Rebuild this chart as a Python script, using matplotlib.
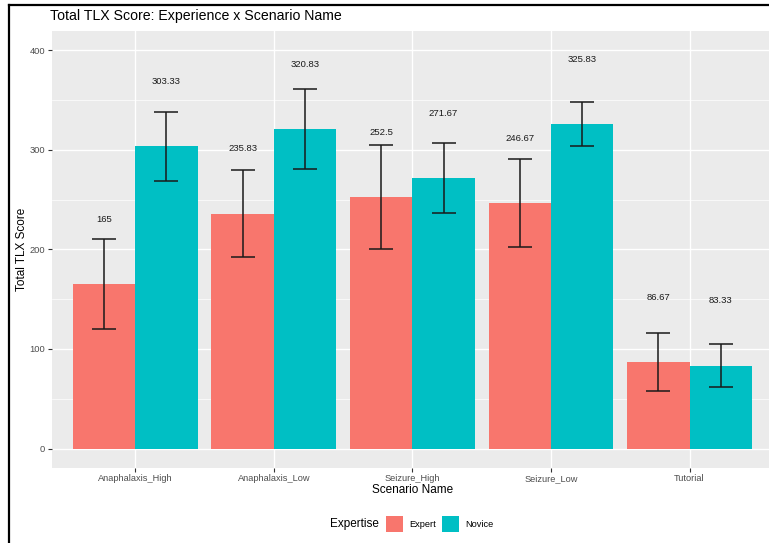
import matplotlib
matplotlib.use("Agg")
import matplotlib.pyplot as plt
from matplotlib.patches import Patch
from matplotlib.lines import Line2D
import numpy as np

plt.rcParams['font.family'] = ['Liberation Sans', 'DejaVu Sans']

scenarios = ["Anaphalaxis_High", "Anaphalaxis_Low", "Seizure_High", "Seizure_Low", "Tutorial"]
groups = ["Expert", "Novice"]
expert_mean = [165, 235.83, 252.5, 246.67, 86.67]
novice_mean = [303.33, 320.83, 271.67, 325.83, 83.33]
expert_err = [45, 44, 52, 44, 29]
novice_err = [34.5, 40, 35.3, 21.7, 22]
colors = ["#F8766D", "#00BFC4"]

W, H = 769, 543
fig = plt.figure(figsize=(W / 100, H / 100), dpi=100)
fig.patch.set_facecolor("white")

# panel runs slightly past the right edge of the canvas
ax_w, ax_h = 720.7, 437.3
ax = fig.add_axes([52 / W, 1 - 468 / H, ax_w / W, ax_h / H])
ax.set_facecolor("#EBEBEB")

x = np.arange(1, len(scenarios) + 1)
bw = 0.45
for i, (means, errs) in enumerate([(expert_mean, expert_err), (novice_mean, novice_err)]):
    xs = x + (i - 0.5) * bw
    ax.bar(xs, means, width=bw, color=colors[i], zorder=3)
    ax.errorbar(xs, means, yerr=errs, fmt="none", ecolor="#1a1a1a",
                elinewidth=1.1, capsize=8.5, capthick=1.1, zorder=4)
    for xi, m in zip(xs, means):
        ax.text(xi, m + 65, f"{m:g}", ha="center", va="center",
                fontsize=6.8, color="#1a1a1a", zorder=5)

ax.set_xlim(0.4, len(scenarios) + 0.6)
ax.set_ylim(-19.5, 419.5)
ax.set_yticks([0, 100, 200, 300, 400])
ax.set_yticks([50, 150, 250, 350], minor=True)
ax.set_xticks(x)
ax.set_xticklabels(scenarios)

ax.grid(which="major", axis="both", color="white", linewidth=1.0, zorder=0)
ax.grid(which="minor", axis="y", color="white", linewidth=0.5, zorder=0)
ax.set_axisbelow(True)
for s in ax.spines.values():
    s.set_visible(False)
ax.tick_params(which="major", length=3, width=0.8, color="#333333",
               labelsize=6.7, labelcolor="#4D4D4D", pad=2)
ax.tick_params(which="minor", length=0)
ax.tick_params(axis="x", pad=6.3)
for lab in ax.get_xticklabels():
    lab.set_va("baseline")

ax.set_xlabel("Scenario Name", fontsize=8.5)
ax.set_ylabel("Total TLX Score", fontsize=8.5)
ax.xaxis.set_label_coords(0.5, -22 / ax_h)
ax.yaxis.set_label_coords(-30 / ax_w, 0.5)
ax.xaxis.label.set_va("center")
ax.yaxis.label.set_va("center")

fig.text(50 / W, 1 - 16 / H, "Total TLX Score: Experience x Scenario Name",
         fontsize=10.2, ha="left", va="center")

# legend at the bottom with title to the left
fig.text(330 / W, 1 - 524 / H, "Expertise", fontsize=8.5, ha="left", va="center")
handles = [Patch(facecolor=c, edgecolor="none", label=g) for c, g in zip(colors, groups)]
fig.legend(handles=handles, loc="center left", bbox_to_anchor=(386 / W, 1 - 524 / H),
           ncol=2, frameon=False, fontsize=6.7, handlelength=1.83, handleheight=2.43,
           handletextpad=0.7, columnspacing=0.6, borderpad=0, borderaxespad=0)

# black frame on the top and left edges
fig.add_artist(Line2D([9 / W, 1], [1 - 5 / H, 1 - 5 / H], color="black", linewidth=1.6,
                      transform=fig.transFigure))
fig.add_artist(Line2D([9 / W, 9 / W], [0, 1 - 5 / H], color="black", linewidth=1.6,
                      transform=fig.transFigure))

fig.savefig("out.png", dpi=100)
